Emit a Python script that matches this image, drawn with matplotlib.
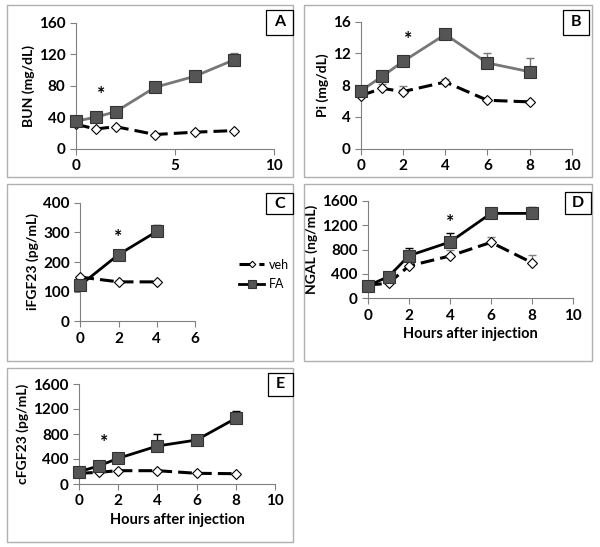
import matplotlib.pyplot as plt
from matplotlib.patches import Rectangle

plt.rcParams['font.family'] = ['Lato', 'DejaVu Sans']
plt.rcParams['font.weight'] = 'bold'

W, H = 600, 547

# Panel A - BUN
a_x = [0, 1, 2, 4, 6, 8]
a_veh = [31, 25, 28, 18, 21, 23]
a_fa = [35, 40, 47, 78, 92, 113]
a_fa_err = [0, 0, 0, 0, 0, 9]
a_veh_err = [0, 0, 0, 0, 0, 0]

# Panel B - Pi
b_x = [0, 1, 2, 4, 6, 8]
b_veh = [6.7, 7.6, 7.2, 8.4, 6.1, 5.9]
b_veh_err = [0, 0.5, 0.7, 0.4, 0, 0]
b_fa = [7.3, 9.1, 11.0, 14.4, 10.8, 9.7]
b_fa_err = [0, 0.7, 0, 0, 1.2, 1.7]

# Panel C - iFGF23
c_x = [0, 2, 4]
c_veh = [149, 133, 133]
c_veh_err = [0, 0, 0]
c_fa = [122, 225, 303]
c_fa_err = [0, 0, 23]

# Panel D - NGAL
d_x = [0, 1, 2, 4, 6, 8]
d_veh = [218, 246, 530, 694, 917, 584]
d_veh_err = [0, 0, 0, 90, 80, 125]
d_fa = [207, 355, 699, 923, 1392, 1392]
d_fa_err = [0, 0, 120, 140, 40, 100]

# Panel E - cFGF23
e_x = [0, 1, 2, 4, 6, 8]
e_veh = [171, 187, 213, 213, 171, 165]
e_veh_err = [0, 0, 0, 0, 0, 0]
e_fa = [197, 288, 411, 608, 704, 1051]
e_fa_err = [0, 0, 0, 200, 55, 120]

fig = plt.figure(figsize=(6, 5.47), dpi=100)


def px_axes(left, right, top, bottom):
    return fig.add_axes([left / W, 1 - bottom / H, (right - left) / W, (bottom - top) / H])


def box(x0, y0, x1, y1, color='#b0b0b0', lw=1.0):
    fig.patches.append(Rectangle((x0 / W, 1 - y1 / H), (x1 - x0) / W, (y1 - y0) / H,
                                 transform=fig.transFigure, fill=False,
                                 edgecolor=color, linewidth=lw))


def letter(x0, y0, x1, y1, txt):
    box(x0, y0, x1, y1, color='black', lw=0.9)
    fig.text((x0 + x1) / 2 / W, 1 - (y0 + y1) / 2 / H, txt, ha='center', va='center',
             fontsize=11.5, fontweight='bold')


def panel(ax, x, veh, veh_err, fa, fa_err, fa_color, ylim, yticks, xlim, xticks, ylabel,
          star, xlabel=None):
    ax.errorbar(x, fa, yerr=[[0] * len(fa), fa_err], fmt='none', ecolor=fa_color,
                elinewidth=1, capsize=3, zorder=2)
    ax.errorbar(x, veh, yerr=[[0] * len(veh), veh_err], fmt='none', ecolor='#808080',
                elinewidth=1, capsize=3, zorder=2)
    ax.plot(x, veh, '--', color='black', lw=2.2, dashes=(4.5, 2), marker='D',
            markersize=5.5, markerfacecolor='white', markeredgecolor='black',
            markeredgewidth=0.8, zorder=3, label='veh')
    ax.plot(x, fa, '-', color=fa_color, lw=2, marker='s', markersize=8.5,
            markerfacecolor='#555555', markeredgecolor='#333333', markeredgewidth=0.8,
            zorder=4, label='FA')
    ax.text(star[0], star[1], '*', ha='center', va='center', fontsize=14)
    ax.set_xlim(xlim)
    ax.set_ylim(ylim)
    ax.set_xticks(xticks)
    ax.set_yticks(yticks)
    ax.spines['top'].set_visible(False)
    ax.spines['right'].set_visible(False)
    for s in ('left', 'bottom'):
        ax.spines[s].set_color('#808080')
    ax.tick_params(colors='black', labelsize=11, length=4, color='#808080')
    for lab in ax.get_xticklabels() + ax.get_yticklabels():
        lab.set_fontweight('bold')
    ax.set_ylabel(ylabel, fontsize=10, fontweight='bold', labelpad=3)
    if xlabel:
        ax.set_xlabel(xlabel, fontsize=10.5, fontweight='bold', labelpad=3)
    ax.patch.set_alpha(0)
    for l in ax.lines:
        l.set_clip_on(False)
    return ax


# panel frames
box(7, 5, 293, 177)
box(304, 5, 592, 177)
box(7, 184, 293, 361)
box(304, 184, 592, 361)
box(7, 368, 293, 542)

axA = px_axes(76, 274, 22.7, 148.7)
panel(axA, a_x, a_veh, a_veh_err, a_fa, a_fa_err, '#777777', (0, 160), [0, 40, 80, 120, 160],
      (0, 10), [0, 5, 10], 'BUN (mg/dL)', (1.26, 69))
letter(266, 10, 293, 35, 'A')

axB = px_axes(361, 571.7, 21.7, 148.7)
panel(axB, b_x, b_veh, b_veh_err, b_fa, b_fa_err, '#777777', (0, 16), [0, 4, 8, 12, 16],
      (0, 10), [0, 2, 4, 6, 8, 10], 'Pi (mg/dL)', (2.25, 13.8))
letter(563, 10, 589, 35, 'B')

axC = px_axes(80.3, 195, 202.7, 321.3)
panel(axC, c_x, c_veh, c_veh_err, c_fa, c_fa_err, 'black', (0, 400), [0, 100, 200, 300, 400],
      (0, 6), [0, 2, 4, 6], 'iFGF23 (pg/mL)', (2.0, 283))
letter(266, 193, 293, 214, 'C')
handles, labels = axC.get_legend_handles_labels()
fig.legend(handles, labels, loc='center left', bbox_to_anchor=(228 / W, 1 - 274.5 / H),
           frameon=False, handlelength=2.0, handletextpad=0.4, markerscale=0.6,
           labelspacing=0.6, prop={'weight': 'normal', 'size': 9})

axD = px_axes(368, 573, 200.7, 298.3)
panel(axD, d_x, d_veh, d_veh_err, d_fa, d_fa_err, 'black', (0, 1600),
      [0, 400, 800, 1200, 1600], (0, 10), [0, 2, 4, 6, 8, 10], 'NGAL (ng/mL)', (4.0, 1240),
      xlabel='Hours after injection')
letter(565, 192, 591, 214, 'D')

axE = px_axes(79, 275, 384, 484)
panel(axE, e_x, e_veh, e_veh_err, e_fa, e_fa_err, 'black', (0, 1600),
      [0, 400, 800, 1200, 1600], (0, 10), [0, 2, 4, 6, 8, 10], 'cFGF23 (pg/mL)', (1.29, 661),
      xlabel='Hours after injection')
letter(268, 373, 293, 396, 'E')

fig.savefig('out.png', dpi=100)
